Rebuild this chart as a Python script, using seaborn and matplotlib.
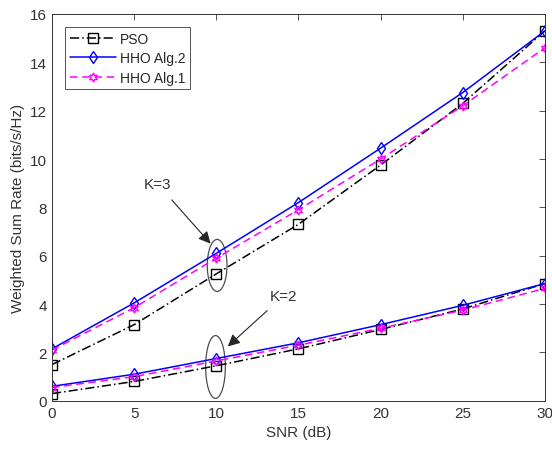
import matplotlib
matplotlib.use("Agg")
import matplotlib.pyplot as plt
import seaborn as sns
import pandas as pd
from matplotlib.patches import Ellipse

# -----------------------------
# Data
# -----------------------------
snr = [0, 5, 10, 15, 20, 25, 30]

pso_k3 = [1.5, 3.15, 5.25, 7.3, 9.75, 12.3, 15.3]
alg2_k3 = [2.15, 4.05, 6.1, 8.2, 10.45, 12.75, 15.3]
alg1_k3 = [2.1, 3.85, 5.9, 7.9, 10.0, 12.2, 14.6]

pso_k2 = [0.3, 0.8, 1.45, 2.15, 2.95, 3.8, 4.85]
alg2_k2 = [0.6, 1.1, 1.75, 2.4, 3.15, 3.95, 4.85]
alg1_k2 = [0.55, 1.0, 1.65, 2.3, 3.0, 3.75, 4.65]

methods = ["PSO", "HHO Alg.2", "HHO Alg.1"]
colors = {"PSO": "black", "HHO Alg.2": "blue", "HHO Alg.1": "magenta"}
markers = {"PSO": "s", "HHO Alg.2": "d", "HHO Alg.1": (6, 1, 0)}
linestyles = {"PSO": (0, (6, 2, 1, 2)), "HHO Alg.2": "-", "HHO Alg.1": (0, (5, 3))}

series = {
    ("PSO", 3): pso_k3, ("HHO Alg.2", 3): alg2_k3, ("HHO Alg.1", 3): alg1_k3,
    ("PSO", 2): pso_k2, ("HHO Alg.2", 2): alg2_k2, ("HHO Alg.1", 2): alg1_k2,
}

# -----------------------------
# Plot
# -----------------------------
sns.set_style("white")
plt.rcParams["font.family"] = ["Liberation Sans", "DejaVu Sans"]
plt.rcParams["xtick.direction"] = "in"
plt.rcParams["ytick.direction"] = "in"

fig = plt.figure(figsize=(5.52, 4.52), dpi=100)
ax = fig.add_axes([0.0942, 0.111, 0.893, 0.856])

handles = {}
for (m, k), vals in series.items():
    df = pd.DataFrame({"snr": snr, "rate": vals})
    sns.lineplot(data=df, x="snr", y="rate", ax=ax, color=colors[m],
                 marker=markers[m], linestyle=linestyles[m], linewidth=1.1,
                 markersize=6.5, markerfacecolor="none",
                 markeredgecolor=colors[m], markeredgewidth=1.0)
    handles[m] = ax.lines[-1]

# ellipses around the K groups
ax.add_patch(Ellipse((10.05, 5.6), 1.2, 2.15, fill=False, edgecolor="0.3", linewidth=0.9))
ax.add_patch(Ellipse((9.95, 1.4), 1.2, 2.6, fill=False, edgecolor="0.3", linewidth=0.9))

ax.annotate("K=3", xy=(9.65, 6.5), xytext=(6.45, 8.95), fontsize=11,
            ha="center", va="center", color="#333333",
            arrowprops=dict(arrowstyle="-|>", color="0.15", lw=0.8,
                            mutation_scale=18, shrinkA=5, shrinkB=0))
ax.annotate("K=2", xy=(10.7, 2.25), xytext=(14.1, 4.35), fontsize=11,
            ha="center", va="center", color="#333333",
            arrowprops=dict(arrowstyle="-|>", color="0.15", lw=0.8,
                            mutation_scale=18, shrinkA=5, shrinkB=0))

ax.set_xlim(0, 30)
ax.set_ylim(0, 16)
ax.set_xticks(snr)
ax.set_yticks(range(0, 17, 2))
ax.tick_params(axis="both", labelsize=11, colors="#333333", top=True, right=True,
               length=4, width=0.6)
ax.set_xlabel("SNR (dB)", fontsize=11, color="#333333")
ax.set_ylabel("Weighted Sum Rate (bits/s/Hz)", fontsize=11, color="#333333")
for s in ax.spines.values():
    s.set_color("#333333")
    s.set_linewidth(0.7)

leg = ax.legend([handles[m] for m in methods], methods, loc="upper left",
                bbox_to_anchor=(0.012, 0.985), fontsize=10, frameon=True,
                fancybox=False, edgecolor="#262626", handlelength=3.3,
                borderpad=0.35, labelspacing=0.4, handletextpad=0.3)
leg.get_frame().set_linewidth(0.7)

fig.savefig("out.png", dpi=100)
